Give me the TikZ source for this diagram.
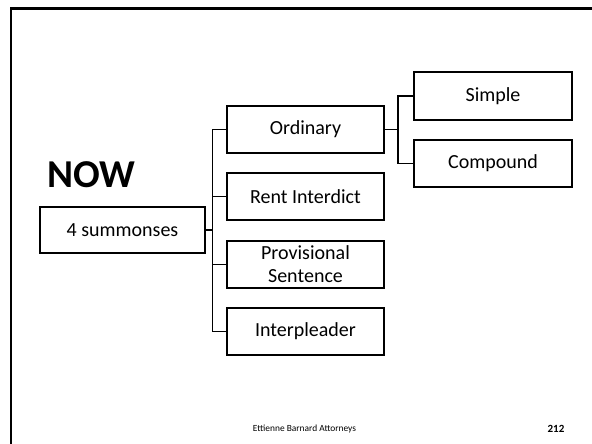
\documentclass[tikz,border=0pt]{standalone}
\usepackage{fontspec}
\setmainfont{Carlito}
\begin{document}
\begin{tikzpicture}[x=1pt,y=-1pt,
  box/.style={draw=black,line width=1.7pt,rectangle,inner sep=0pt,
    minimum width=157pt,minimum height=47pt,font=\fontsize{20}{23}\selectfont,align=center},
  link/.style={draw=black,line width=1.7pt},
  frameline/.style={draw=black,line width=2.8pt}]
\useasboundingbox (0,0) rectangle (592,444);
\fill[white] (0,0) rectangle (592,444);
% slide frame
\draw[frameline] (11,444) -- (11,8.3) -- (592,8.3);
% title
\node[anchor=base west,inner sep=0pt,font=\fontsize{39.5}{42}\selectfont\bfseries] (now) at (47.5,187) {NOW};
% root
\node[box,minimum width=165pt,minimum height=46pt] (sum) at (122.5,230) {4 summonses};
% first level
\node[box] (ord) at (305.5,129.5) {Ordinary};
\node[box] (rent) at (305.5,196.5) {Rent Interdict};
\node[box] (prov) at (305.5,264.5) {Provisional\\Sentence};
\node[box] (intp) at (305.5,331.5) {Interpleader};
% second level
\node[box,minimum width=158pt,minimum height=48pt] (simp) at (493,96) {Simple};
\node[box,minimum width=158pt] (comp) at (493,163.5) {Compound};
% trunks
\coordinate (t1) at (212.5,0);
\coordinate (t2) at (398,0);
\draw[link] (ord.west) -- (ord.west -| t1) -- (intp.west -| t1) -- (intp.west);
\draw[link] (rent.west) -- (rent.west -| t1);
\draw[link] (prov.west) -- (prov.west -| t1);
\draw[link] (sum.east) -- (sum.east -| t1);
\draw[link] (simp.west) -- (simp.west -| t2) -- (comp.west -| t2) -- (comp.west);
\draw[link] (ord.east) -- (ord.east -| t2);
% footer
\node[font=\fontsize{9.4}{10}\selectfont,inner sep=0pt] (foot) at (304.5,429) {Ettienne Barnard Attorneys};
\node[font=\fontsize{11}{12}\selectfont\bfseries,inner sep=0pt] (page) at (556,429) {212};
\end{tikzpicture}
\end{document}
